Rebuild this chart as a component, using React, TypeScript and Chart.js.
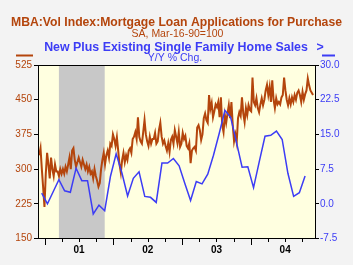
import React, { useEffect, useRef } from "react";
import { Chart, registerables } from "chart.js";

Chart.register(...registerables);

// Weekly MBA purchase index (SA, Mar-16-90=100), weekly from early Dec 2000
const mbaStart = 2000.92; // decimal year of first weekly observation
const mbaValues = [
  330, 345, 300, 260, 218,
  290, 335, 310, 280,
  325, 300, 285, 310, 295,
  295, 285, 300, 290,
  300, 290, 305, 295,
  310, 325, 300, 340, 345,
  320, 305, 315, 325,
  315, 305, 320, 310,
  300, 310, 295, 305, 290,
  295, 280, 300, 285,
  275, 262, 270, 300,
  320, 335, 310, 330,
  340, 325, 355, 350, 375,
  365, 350, 369, 340,
  310, 292, 320, 335,
  315, 330, 320, 340,
  345, 335, 365, 370,
  380, 365, 412, 370, 360,
  355, 380, 406, 375,
  360, 350, 370, 355, 365,
  365, 378, 355, 360, 385,
  400, 370, 355, 362,
  350, 340, 356, 337,
  363, 370, 355, 384,
  370, 356, 380, 348, 355,
  378, 365, 372, 350,
  345, 356, 313, 340,
  345, 348, 340, 390,
  395, 384, 363, 375, 410,
  420, 406, 400, 460,
  430, 443, 412, 425,
  440, 434, 445, 412, 455,
  395, 380, 417, 400,
  420, 438, 410, 445,
  395, 360, 375, 358, 410,
  423, 415, 455, 420,
  402, 432, 417, 438, 428,
  425, 498, 445, 438, 453,
  432, 423, 440, 453,
  438, 450, 470, 482,
  460, 478, 445, 492,
  450, 432, 453, 440, 445,
  440, 455, 460, 498, 470,
  450, 438, 453, 440,
  455, 445, 460, 450, 465,
  470, 460, 445, 467,
  450, 462, 470, 496,
  481, 470, 465, 460,
];

// New plus existing single family home sales, Y/Y % chg, monthly Dec 2000 - Oct 2004
const salesStartYear = 2000;
const salesStartMonth = 12;
const salesValues = [
  2.3, 0.0, 2.6, 5.2, 2.8, 2.5, 7.7, 5.0, 5.0, -2.2, -0.3, -1.5,
  5.9, 10.8, 6.7, 1.7, 5.5, 6.9, 1.6, 1.4, 0.3, 8.8, 8.8, 9.8,
  8.2, 4.4, 0.7, 4.8, 4.3, 6.4, 10.5, 15.2, 20.2, 18.7, 13.4, 7.9,
  8.0, 3.5, 9.1, 14.6, 14.8, 15.7, 13.9, 6.6, 1.6, 2.4, 6.0,
];

const yearLabels = ["01", "02", "03", "04"];
const yearValues = [2001, 2002, 2003, 2004];
const leftTicks = [150, 225, 300, 375, 450, 525];
const rightTicks = [-7.5, 0, 7.5, 15, 22.5, 30];
const recession = { startYear: 2001, startMonth: 3, endYear: 2001, endMonth: 11 };

const X_MIN = 2000.9025;
const X_MAX = 2004.949;
const ORANGE = "#b4450c";
const BLUE = "#3c3cf5";
const FONT = "'Liberation Sans', Arial, sans-serif";

const monthPos = (y: number, m: number) => y + (m - 1) / 12 + 0.04;

const mbaPoints = mbaValues.map((v, i) => ({ x: mbaStart + (i * 7) / 365.25, y: v }));
const salesPoints = salesValues.map((v, i) => {
  const mIdx = salesStartMonth - 1 + i;
  return { x: monthPos(salesStartYear + Math.floor(mIdx / 12), (mIdx % 12) + 1), y: v };
});

const decorPlugin = {
  id: "decor",
  beforeDraw(chart: any) {
    const { ctx, chartArea, scales } = chart;
    ctx.save();
    ctx.fillStyle = "#f3f3f3";
    ctx.fillRect(0, 0, chart.width, chart.height);
    ctx.fillStyle = "#ffffe0";
    ctx.fillRect(chartArea.left, chartArea.top, chartArea.right - chartArea.left, chartArea.bottom - chartArea.top);
    const x0 = scales.x.getPixelForValue(monthPos(recession.startYear, recession.startMonth));
    const x1 = scales.x.getPixelForValue(monthPos(recession.endYear, recession.endMonth));
    ctx.fillStyle = "#c8c8c8";
    ctx.fillRect(x0, chartArea.top, x1 - x0, chartArea.bottom - chartArea.top);
    ctx.restore();
  },
  afterDraw(chart: any) {
    const { ctx, chartArea, scales } = chart;
    const xs = scales.x;
    ctx.save();
    // frame
    ctx.strokeStyle = "#000";
    ctx.lineWidth = 1;
    ctx.strokeRect(Math.round(chartArea.left) + 0.5, Math.round(chartArea.top) + 0.5,
      Math.round(chartArea.right - chartArea.left) - 1, Math.round(chartArea.bottom - chartArea.top) - 1);
    // x ticks (quarters), longer at years
    const b = Math.round(chartArea.bottom);
    ctx.beginPath();
    for (let y = 2001; y <= 2004; y++) {
      for (let q = 0; q < 4; q++) {
        const t = y + q / 4;
        if (t < X_MIN || t > X_MAX) continue;
        const px = Math.round(xs.getPixelForValue(t)) + 0.5;
        ctx.moveTo(px, b);
        ctx.lineTo(px, b + (q === 0 ? 6 : 3));
      }
    }
    ctx.stroke();
    // year labels
    ctx.fillStyle = "#000";
    ctx.font = `bold 10px ${FONT}`;
    ctx.textAlign = "center";
    ctx.textBaseline = "middle";
    yearValues.forEach((yv, i) => {
      ctx.fillText(yearLabels[i], xs.getPixelForValue(yv + 0.5), 250);
    });
    // titles
    ctx.fillStyle = ORANGE;
    ctx.font = `bold 12.2px ${FONT}`;
    ctx.fillText("MBA:Vol Index:Mortgage Loan Applications for Purchase", 176.5, 23);
    ctx.font = `10.5px ${FONT}`;
    ctx.fillText("SA, Mar-16-90=100", 177.5, 34.5);
    ctx.fillStyle = BLUE;
    ctx.font = `bold 12.4px ${FONT}`;
    ctx.fillText("New Plus Existing Single Family Home Sales", 176, 47.5);
    ctx.fillText(">", 320, 47.5);
    ctx.font = `10.5px ${FONT}`;
    ctx.fillText("Y/Y % Chg.", 175, 58.5);
    // legend dashes
    ctx.lineWidth = 2;
    ctx.strokeStyle = ORANGE;
    ctx.beginPath();
    ctx.moveTo(16, 55.5);
    ctx.lineTo(33, 55.5);
    ctx.stroke();
    ctx.strokeStyle = BLUE;
    ctx.beginPath();
    ctx.moveTo(322, 55.5);
    ctx.lineTo(335, 55.5);
    ctx.stroke();
    ctx.restore();
  },
};

export default function App() {
  const ref = useRef<HTMLCanvasElement>(null);
  useEffect(() => {
    document.body.style.margin = "0";
    const canvas = ref.current!;
    const chart = new Chart(canvas, {
      type: "line",
      data: {
        datasets: [
          {
            label: "Home Sales Y/Y",
            data: salesPoints,
            yAxisID: "y1",
            borderColor: BLUE,
            borderWidth: 1.5,
            pointRadius: 0,
            tension: 0,
          },
          {
            label: "MBA Purchase",
            data: mbaPoints,
            yAxisID: "y",
            borderColor: ORANGE,
            borderWidth: 2,
            pointRadius: 0,
            tension: 0,
          },
        ],
      },
      options: {
        responsive: false,
        animation: false,
        devicePixelRatio: 1,
        layout: { padding: { top: 65, left: 0, right: 0, bottom: 0 } },
        plugins: { legend: { display: false }, tooltip: { enabled: false }, title: { display: false } },
        scales: {
          x: {
            type: "linear",
            min: X_MIN,
            max: X_MAX,
            ticks: { display: false },
            grid: { display: false },
            border: { display: false },
            afterFit: (s: any) => { s.height = 26.5; },
          },
          y: {
            position: "left",
            min: 150,
            max: 525,
            afterBuildTicks: (s: any) => { s.ticks = leftTicks.map((v) => ({ value: v })); },
            ticks: { color: ORANGE, font: { family: FONT, size: 10 }, padding: 2 },
            grid: { drawOnChartArea: false, tickLength: 4, tickColor: "#000" },
            border: { display: false },
            afterFit: (s: any) => { s.width = 38; },
          },
          y1: {
            position: "right",
            min: -7.5,
            max: 30,
            afterBuildTicks: (s: any) => { s.ticks = rightTicks.map((v) => ({ value: v })); },
            ticks: {
              color: BLUE,
              font: { family: FONT, size: 10 },
              padding: 1,
              callback: (v: any) => Number(v).toFixed(1),
            },
            grid: { drawOnChartArea: false, tickLength: 3, tickColor: "#000" },
            border: { display: false },
            afterFit: (s: any) => { s.width = 37; },
          },
        },
      } as any,
      plugins: [decorPlugin],
    });
    return () => chart.destroy();
  }, []);
  return (
    <div style={{ position: "absolute", left: 0, top: 0, width: 353, height: 265 }}>
      <canvas ref={ref} width={353} height={265} style={{ display: "block", width: 353, height: 265 }} />
    </div>
  );
}
